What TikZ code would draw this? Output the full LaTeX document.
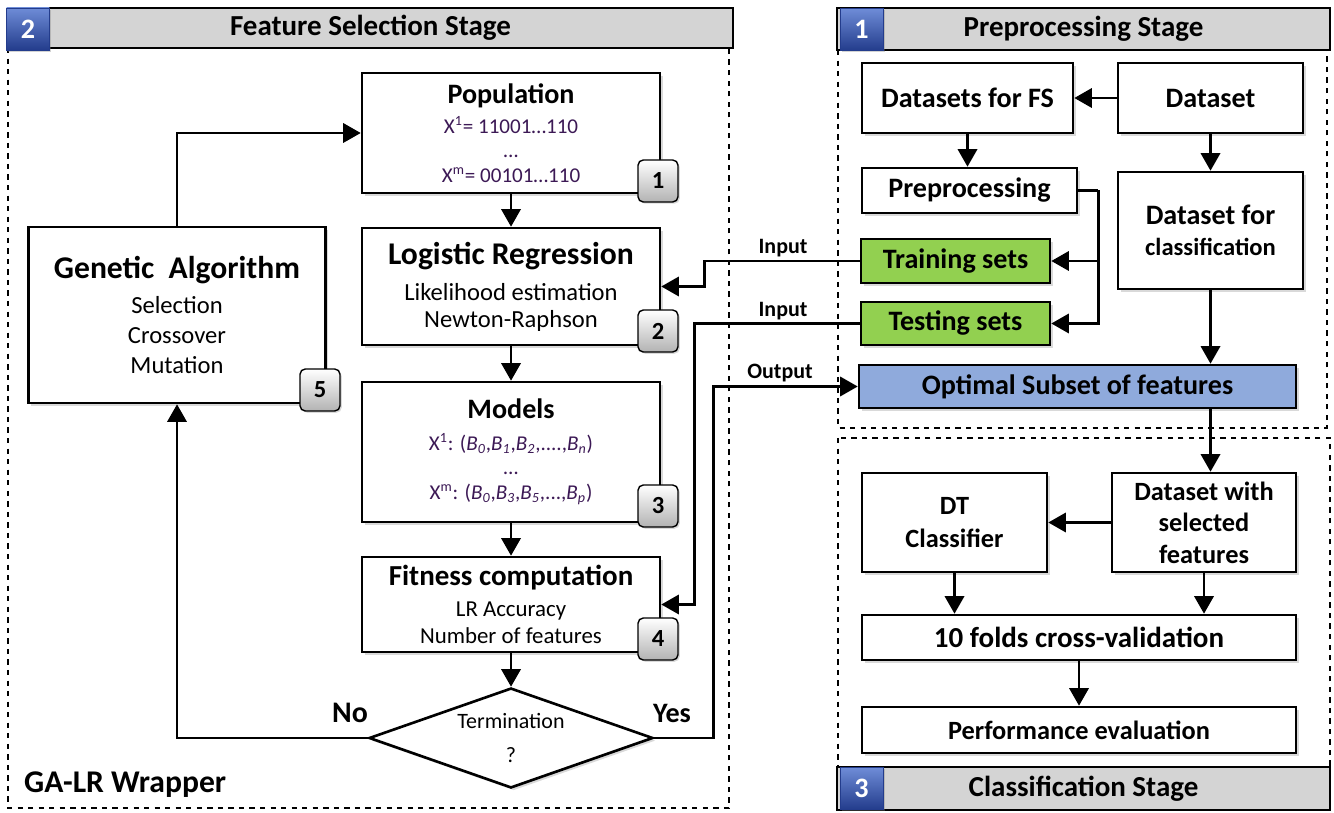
\documentclass[tikz,border=0pt]{standalone}
\usepackage{fontspec}
\setmainfont{Carlito}
\usetikzlibrary{arrows.meta,shapes.geometric,shadows}

\definecolor{hdrgray}{RGB}{212,212,212}
\definecolor{setgreen}{RGB}{146,208,80}
\definecolor{optblue}{RGB}{143,170,220}
\definecolor{numtop}{RGB}{110,140,215}
\definecolor{numbot}{RGB}{35,60,140}
\definecolor{bitpurple}{RGB}{60,25,85}

\newcommand{\boxtitle}{\fontsize{16}{19}\selectfont\bfseries}
\newcommand{\bcoef}[1]{\textit{B\textsubscript{#1}}}

\tikzset{
  box/.style={draw, line width=1.5pt, fill=white, inner sep=2pt, align=center,
    drop shadow={opacity=0.3, shadow xshift=1.5pt, shadow yshift=-1.5pt}},
  badge/.style={draw, line width=0.8pt, rounded corners=3pt, top color=white, bottom color=gray!60,
    minimum width=0.8cm, minimum height=0.84cm, inner sep=0pt,
    font=\fontsize{14}{14}\selectfont\bfseries,
    drop shadow={opacity=0.3, shadow xshift=1pt, shadow yshift=-1pt}},
  hdr/.style={draw, line width=1.2pt, fill=hdrgray, inner sep=0pt,
    font=\fontsize{16.5}{18}\selectfont\bfseries},
  numsq/.style={draw=numbot, top color=numtop, bottom color=numbot, text=white,
    minimum width=0.86cm, minimum height=0.84cm, inner sep=0pt,
    font=\fontsize{16}{16}\selectfont\bfseries,
    drop shadow={opacity=0.35, shadow xshift=1pt, shadow yshift=-1pt}},
  frame/.style={dashed, line width=0.9pt},
  arr/.style={line width=1.4pt, -{Triangle[length=10pt,width=11pt]}},
  lbl/.style={font=\fontsize{12.5}{14}\selectfont\bfseries}
}

\begin{document}
\begin{tikzpicture}[x=0.02cm, y=-0.02cm]
  \useasboundingbox (0,0) rectangle (1334,813);

  % Stage frames
  \draw[frame] (8,48) rectangle (729,808);
  \draw[frame] (838,50) rectangle (1327,428);
  \draw[frame] (838,438) rectangle (1330,767);

  % Stage headers
  \node[hdr, minimum width=14.5cm, minimum height=0.8cm] (hfs) at (370.5,28) {Feature Selection Stage};
  \node[numsq] (n2) at (28,29) {2};
  \node[hdr, minimum width=9.86cm, minimum height=0.84cm] (hpre) at (1083.5,29) {Preprocessing Stage};
  \node[numsq] (n1) at (861.5,29.5) {1};
  \node[hdr, minimum width=9.86cm, minimum height=0.86cm] (hcls) at (1083.5,788.5) {Classification Stage};
  \node[numsq] (n3) at (861.5,788.5) {3};

  % GA-LR wrapper
  \node[box, minimum width=5.96cm, minimum height=2.4cm, font=\fontsize{12}{14}\selectfont] (pop) at (511,133)
    {{\boxtitle Population}\\[3pt]
     \textcolor{bitpurple}{X\textsuperscript{1}= 11001…110}\\
     \textcolor{bitpurple}{…}\\
     \textcolor{bitpurple}{X\textsuperscript{m}= 00101…110}};
  \node[box, minimum width=5.96cm, minimum height=2.34cm, font=\fontsize{14}{15.5}\selectfont] (lr) at (511,286.5)
    {{\fontsize{18}{20}\selectfont\bfseries Logistic Regression}\\[5pt]
     Likelihood estimation\\ Newton-Raphson};
  \node[box, minimum width=5.96cm, minimum height=2.8cm, font=\fontsize{12}{14}\selectfont] (mod) at (511,452)
    {{\boxtitle Models}\\[4pt]
     \textcolor{bitpurple}{X\textsuperscript{1}: (\bcoef{0},\bcoef{1},\bcoef{2},....,\bcoef{n})}\\
     \textcolor{bitpurple}{…}\\
     \textcolor{bitpurple}{X\textsuperscript{m}: (\bcoef{0},\bcoef{3},\bcoef{5},...,\bcoef{p})}};
  \node[box, minimum width=5.96cm, minimum height=1.9cm, font=\fontsize{13}{15.3}\selectfont] (fit) at (511,604.5)
    {{\fontsize{16.5}{19}\selectfont\bfseries Fitness computation}\\[2pt]
     LR Accuracy\\ Number of features};
  \node[box, diamond, aspect=2.84, minimum width=5.68cm, minimum height=2cm, inner sep=0pt,
    font=\fontsize{12.5}{19}\selectfont] (term) at (511,738) {Termination\\ ?};
  \node[box, minimum width=5.94cm, minimum height=3.52cm, font=\fontsize{14}{17}\selectfont] (ga) at (177,315)
    {{\fontsize{18}{20}\selectfont\bfseries Genetic\ \ Algorithm}\\[3pt]
     Selection\\ Crossover\\ Mutation};

  % Step badges
  \node[badge] (b1) at (658,181) {1};
  \node[badge] (b2) at (658,331) {2};
  \node[badge] (b3) at (658,506) {3};
  \node[badge] (b4) at (658,639) {4};
  \node[badge] (b5) at (320,390) {5};

  \node[font=\fontsize{17}{18}\selectfont\bfseries] (no) at (350,713) {No};
  \node[font=\fontsize{16}{18}\selectfont\bfseries] (yes) at (672,713) {Yes};
  \node[anchor=west, font=\fontsize{18}{20}\selectfont\bfseries] (wrap) at (18,785) {GA-LR Wrapper};

  % Preprocessing boxes
  \node[box, minimum width=4.22cm, minimum height=1.4cm, font=\boxtitle] (fs) at (967.5,98) {Datasets for FS};
  \node[box, minimum width=3.7cm, minimum height=1.4cm, font=\boxtitle] (ds) at (1210.5,98) {Dataset};
  \node[box, minimum width=4.3cm, minimum height=0.9cm, font=\boxtitle] (prep) at (969.5,190.5) {Preprocessing};
  \node[box, minimum width=3.7cm, minimum height=2.34cm, font=\fontsize{16}{18}\selectfont\bfseries] (dscls) at (1210.5,230.5)
    {Dataset for\\ {\fontsize{14}{18}\selectfont classification}};
  \node[box, fill=setgreen, minimum width=3.78cm, minimum height=0.88cm, font=\boxtitle] (train) at (955.5,261) {Training sets};
  \node[box, fill=setgreen, minimum width=3.78cm, minimum height=0.86cm, font=\boxtitle] (test) at (955.5,323.5) {Testing sets};
  \node[box, fill=optblue, minimum width=8.74cm, minimum height=0.86cm, font=\boxtitle] (opt) at (1077.5,386.5) {Optimal Subset of features};

  % Classification boxes
  \node[box, minimum width=3.7cm, minimum height=1.98cm, font=\fontsize{15}{18.7}\selectfont\bfseries] (dt) at (954.5,522.5) {DT\\ Classifier};
  \node[box, minimum width=3.68cm, minimum height=1.98cm, font=\fontsize{15}{18}\selectfont\bfseries] (dsf) at (1204,522.5) {Dataset with\\ selected\\ features};
  \node[box, minimum width=8.68cm, minimum height=0.9cm, font=\fontsize{16.5}{18}\selectfont\bfseries] (folds) at (1079,637.5) {10 folds cross-validation};
  \node[box, minimum width=8.68cm, minimum height=0.92cm, font=\fontsize{15}{18}\selectfont\bfseries] (perf) at (1079,730) {Performance\ evaluation};

  % Connector labels
  \node[lbl] (in1) at (783,248) {Input};
  \node[lbl] (in2) at (783,311) {Input};
  \node[lbl] (out) at (780,373) {Output};

  % GA-LR loop
  \draw[arr] (pop) -- (lr);
  \draw[arr] (lr) -- (mod);
  \draw[arr] (mod) -- (fit);
  \draw[arr] (fit) -- (term);
  \draw[arr] (term.west) -| (ga.south);
  \draw[arr] (ga.north) |- (pop.west);
  \draw[arr] (train.west) -- ++(-155,0) |- (lr.east);
  \draw[arr] (test.west) -- ++(-165,0) |- (fit.east);
  \draw[arr] (term.east) -- ++(59,0) |- (opt.west);

  % Preprocessing flow
  \draw[arr] (ds) -- (fs);
  \draw[arr] (fs) -- (fs.south |- prep.north);
  \draw[arr] (ds) -- (dscls);
  \draw[line width=1.4pt] (prep.east) -- ++(20,0) coordinate (split);
  \draw[arr] (split) |- (train.east);
  \draw[arr] (split) |- (test.east);
  \draw[arr] (dscls.south) -- (dscls.south |- opt.north);

  % Classification flow
  \draw[arr] (dscls.south |- opt.south) -- (dsf.north -| dscls.south);
  \draw[arr] (dsf) -- (dt);
  \draw[arr] (dt) -- (dt |- folds.north);
  \draw[arr] (dsf) -- (dsf |- folds.north);
  \draw[arr] (folds) -- (perf);
\end{tikzpicture}
\end{document}
